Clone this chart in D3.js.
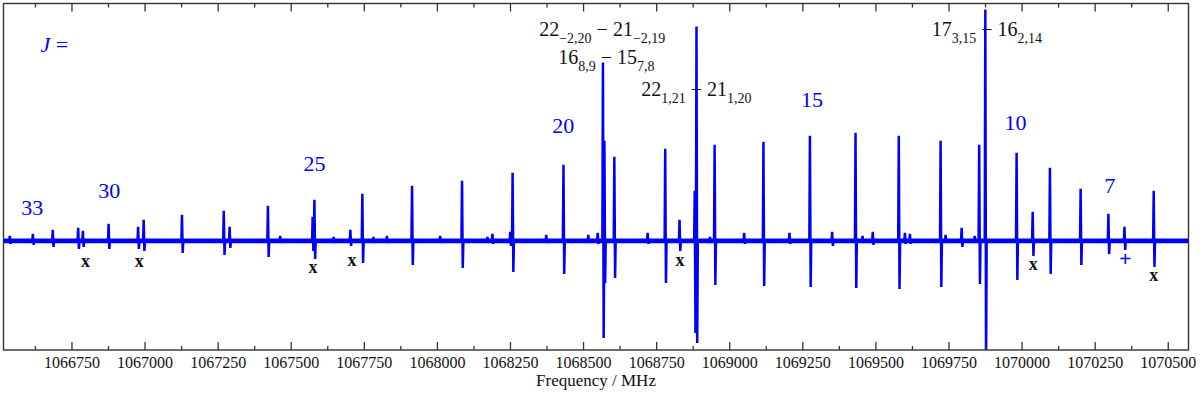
<!DOCTYPE html>
<html>
<head>
<meta charset="utf-8">
<script src="https://cdn.jsdelivr.net/npm/d3@7"></script>
<style>
  html, body { margin: 0; padding: 0; background: #fff; }
  svg { display: block; }
  text { font-family: "Liberation Serif", "DejaVu Serif", serif; }
</style>
</head>
<body>
<svg id="chart" width="1200" height="393"></svg>
<script>
// ---- data ----
const lineFreqs = [1066539,1066618,1066686,1066773,1066789,1066877,1066978,1066997,1067128,1067271,
  1067291,1067422,1067464,1067575,1067581,1067647,1067704,1067745,1067783,1067829,
  1067915,1068011,1068086,1068173,1068190,1068251,1068259,1068374,1068433,1068518,
  1068550,1068568,1068573,1068607,1068721,1068781,1068830,1068882,1068888,1068934,
  1068950,1069051,1069117,1069206,1069276,1069352,1069432,1069456,1069491,1069580,
  1069601,1069618,1069723,1069740,1069795,1069840,1069855,1069876,1069983,1070038,
  1070097,1070202,1070297,1070352,1070452];
const lineUp = [0.05,0.07,0.11,0.13,0.10,0.17,0.14,0.21,0.26,0.30,
  0.14,0.35,0.05,0.24,0.41,0.04,0.11,0.47,0.04,0.05,
  0.55,0.05,0.60,0.04,0.07,0.09,0.68,0.06,0.76,0.06,
  0.08,1.78,1.00,0.84,0.08,0.92,0.21,0.50,2.14,0.04,
  0.96,0.08,0.99,0.08,1.05,0.09,1.08,0.05,0.09,1.05,
  0.08,0.07,1.00,0.06,0.13,0.05,0.96,2.31,0.88,0.29,
  0.73,0.52,0.27,0.14,0.50];
const lineDown = [0.03,0.04,0.06,0.08,0.06,0.08,0.08,0.10,0.12,0.14,
  0.07,0.16,0.02,0.10,0.18,0.02,0.05,0.22,0.02,0.02,
  0.24,0.02,0.27,0.02,0.03,0.05,0.31,0.02,0.33,0.02,
  0.03,0.97,0.42,0.37,0.03,0.42,0.10,0.92,1.02,0.02,
  0.44,0.03,0.45,0.03,0.46,0.05,0.47,0.02,0.04,0.48,
  0.03,0.03,0.46,0.02,0.06,0.02,0.43,1.30,0.39,0.15,
  0.33,0.24,0.13,0.09,0.26];

const tickValues = [1066750,1067000,1067250,1067500,1067750,1068000,1068250,1068500,
  1068750,1069000,1069250,1069500,1069750,1070000,1070250,1070500];
const minorTickValues = [1066625,1066875,1067125,1067375,1067625,1067875,1068125,1068375,
  1068625,1068875,1069125,1069375,1069625,1069875,1070125,1070375];

const jLabels = ["33","30","25","20","15","10","7"];
const jLabelFreqs = [1066616,1066879,1067581,1068432,1069283,1069979,1070302];
const jLabelInts = [0.26,0.43,0.695,1.075,1.34,1.11,0.475];

const markerText = ["x","x","x","x","x","x","x","+"];
const markerFreqs = [1066798,1066982,1067576,1067710,1068832,1070040,1070452,1070355];
const markerInts = [-0.26,-0.26,-0.325,-0.255,-0.255,-0.29,-0.405,-0.255];

// annotations: [upper, upper subscript, lower, lower subscript]
const annParts = [
  ["22","\u22122,20","21","\u22122,19"],
  ["16","8,9","15","7,8"],
  ["22","1,21","21","1,20"],
  ["17","3,15","16","2,14"]
];
const annFreqs = [1068350,1068415,1068699,1069693];
const annInts = [2.05,1.77,1.45,2.05];

// ---- layout ----
const L = 3.5, R = 1188.5, T = 3.5, B = 350;
const svg = d3.select("#chart");
const x = d3.scaleLinear().domain([1066517.5, 1070571]).range([L, R]);
const y = d3.scaleLinear().domain([-1.09, 2.37]).range([B, T]);
const blue = "#0000ff";

svg.append("defs").append("clipPath").attr("id","clip")
  .append("rect").attr("x", L).attr("y", T).attr("width", R - L).attr("height", B - T);

const plot = svg.append("g").attr("clip-path","url(#clip)");

// baseline (noise band)
plot.append("path")
  .datum([x.domain()[0], x.domain()[1]])
  .attr("d", d3.line().x(d => x(d)).y(() => y(0)))
  .attr("stroke", blue).attr("stroke-width", 4.8).attr("fill","none");

// spectrum lines
const pts = [];
pts.push([x.domain()[0], 0]);
lineFreqs.forEach((f, i) => {
  pts.push([f - 2, 0]);
  pts.push([f, lineUp[i]]);
  pts.push([f + 2.5, -lineDown[i]]);
  pts.push([f + 4.5, 0]);
});
pts.push([x.domain()[1], 0]);
plot.append("path")
  .datum(pts)
  .attr("d", d3.line().x(d => x(d[0])).y(d => y(d[1])))
  .attr("stroke", blue).attr("stroke-width", 2.5).attr("fill", "none")
  .attr("stroke-linejoin","miter").attr("stroke-miterlimit", 1);

// axes
const axB = svg.append("g").attr("transform", `translate(0,${B})`)
  .call(d3.axisBottom(x).tickValues(tickValues).tickSize(-8).tickPadding(10).tickFormat(d3.format("d")));
const axBm = svg.append("g").attr("transform", `translate(0,${B})`)
  .call(d3.axisBottom(x).tickValues(minorTickValues).tickSize(-4).tickFormat(""));
const axT = svg.append("g").attr("transform", `translate(0,${T})`)
  .call(d3.axisTop(x).tickValues(tickValues).tickSize(-8).tickFormat(""));
const axTm = svg.append("g").attr("transform", `translate(0,${T})`)
  .call(d3.axisTop(x).tickValues(minorTickValues).tickSize(-4).tickFormat(""));
[axB, axBm, axT, axTm].forEach(g => {
  g.select(".domain").remove();
  g.selectAll(".tick line").attr("stroke", "#333").attr("stroke-width", 1.3);
});
axB.selectAll(".tick text")
  .attr("font-family", "Liberation Serif").attr("font-size", 16).attr("fill", "#111")
  .attr("dy", null).attr("y", 18);

svg.append("rect").attr("x", L).attr("y", T).attr("width", R - L).attr("height", B - T)
  .attr("fill", "none").attr("stroke", "#333").attr("stroke-width", 1.4);

svg.append("text").attr("x", (L + R) / 2).attr("y", 386)
  .attr("text-anchor", "middle").attr("font-size", 17).attr("fill", "#111")
  .text("Frequency / MHz");

// J labels
const jt = svg.append("text").attr("x", x(1066644)).attr("y", y(1.885))
  .attr("font-size", 22).attr("fill", blue);
jt.append("tspan").attr("font-style", "italic").text("J");
jt.append("tspan").text(" =");

jLabels.forEach((s, i) => {
  svg.append("text").attr("x", x(jLabelFreqs[i])).attr("y", y(jLabelInts[i]))
    .attr("text-anchor", "middle").attr("font-size", 22).attr("fill", blue).text(s);
});

// markers
markerText.forEach((s, i) => {
  const plus = s === "+";
  svg.append("text").attr("x", x(markerFreqs[i])).attr("y", y(markerInts[i]))
    .attr("text-anchor", "middle").attr("font-size", plus ? 22 : 18).attr("font-weight", "bold")
    .attr("fill", plus ? blue : "#111").text(s);
});

// transition annotations
annParts.forEach((p, i) => {
  const t = svg.append("text").attr("x", x(annFreqs[i])).attr("y", y(annInts[i]))
    .attr("font-size", 20).attr("fill", "#111");
  t.append("tspan").text(p[0]);
  t.append("tspan").attr("font-size", 14).attr("dy", 7).text(p[1]);
  t.append("tspan").attr("dy", -7).text(" \u2212 " + p[2]);
  t.append("tspan").attr("font-size", 14).attr("dy", 7).text(p[3]);
});
</script>
</body>
</html>
